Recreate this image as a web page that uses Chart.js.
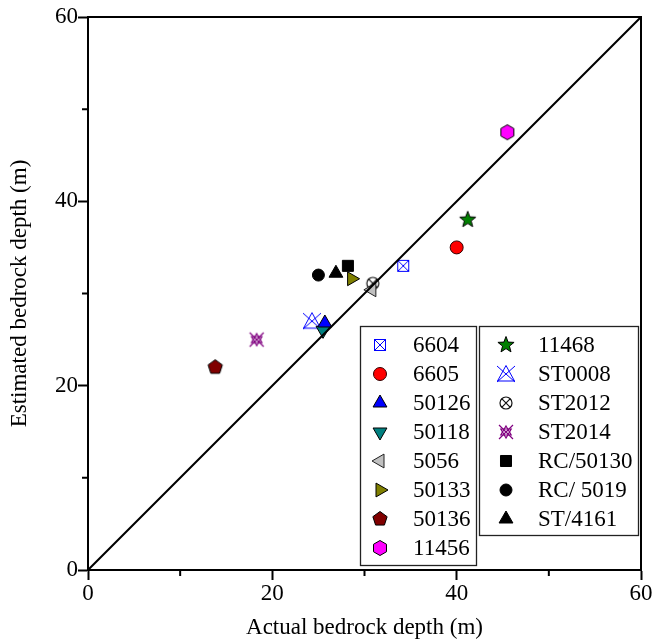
<!DOCTYPE html>
<html>
<head>
<meta charset="utf-8">
<script src="https://cdn.jsdelivr.net/npm/chart.js@4/dist/chart.umd.min.js"></script>
<style>
  html, body { margin: 0; padding: 0; background: #fff; }
</style>
</head>
<body>
<canvas id="depthChart" width="655" height="643"></canvas>
<script>
// dados
const wellNames = ['6604', '6605', '50126', '50118', '5056', '50133', '50136', '11456',
                   '11468', 'ST0008', 'ST2012', 'ST2014', 'RC/50130', 'RC/ 5019', 'ST/4161'];
const actualDepth    = [34.2, 40.0, 25.7, 25.5, 30.8, 28.6, 13.8, 45.5, 41.2, 24.3, 30.9, 18.3, 28.2, 25.0, 26.9];
const estimatedDepth = [33.0, 35.0, 26.8, 26.0, 30.4, 31.6, 22.0, 47.5, 38.0, 27.0, 31.1, 25.0, 33.0, 32.0, 32.2];
const axisRange = [0, 60];
const majorTicks = [0, 20, 40, 60];
const minorTicks = [10, 30, 50];

const serif = "'Liberation Serif', 'Times New Roman', serif";

// simbolos desenhados num canvas pequeno
function marker(size, paint) {
  const c = document.createElement('canvas');
  c.width = size; c.height = size;
  const g = c.getContext('2d');
  g.translate(size / 2, size / 2);
  paint(g);
  return c;
}
function polygon(g, n, r, start) {
  g.beginPath();
  for (let i = 0; i < n; i++) {
    const a = start + i * 2 * Math.PI / n;
    g.lineTo(r * Math.cos(a), r * Math.sin(a));
  }
  g.closePath();
}

const crossSquare = marker(16, g => {
  g.fillStyle = '#fff'; g.strokeStyle = '#0000ff'; g.lineWidth = 1;
  g.fillRect(-5.5, -5.5, 11, 11);
  g.strokeRect(-5.5, -5.5, 11, 11);
  g.beginPath();
  g.moveTo(-5.5, -5.5); g.lineTo(5.5, 5.5);
  g.moveTo(-5.5, 5.5); g.lineTo(5.5, -5.5);
  g.stroke();
});
const pentagon = marker(20, g => {
  polygon(g, 5, 7.5, -Math.PI / 2);
  g.fillStyle = '#800000'; g.fill();
  g.strokeStyle = '#000'; g.lineWidth = 1; g.stroke();
});
const hexagon = marker(20, g => {
  polygon(g, 6, 7.5, -Math.PI / 2);
  g.fillStyle = '#ff00ff'; g.fill();
  g.strokeStyle = '#000'; g.lineWidth = 1; g.stroke();
});
const star = marker(22, g => {
  g.beginPath();
  for (let i = 0; i < 10; i++) {
    const a = -Math.PI / 2 + i * Math.PI / 5;
    const r = i % 2 ? 3.6 : 8.5;
    g.lineTo(r * Math.cos(a), r * Math.sin(a));
  }
  g.closePath();
  g.fillStyle = '#008000'; g.fill();
  g.strokeStyle = '#000'; g.lineWidth = 1; g.stroke();
});
const crossTriangle = marker(24, g => {
  g.strokeStyle = '#0000ff'; g.lineWidth = 1;
  g.beginPath();
  g.moveTo(0, -8.5); g.lineTo(8.5, 7); g.lineTo(-8.5, 7); g.closePath();
  g.moveTo(-9, -8); g.lineTo(9, 8);
  g.moveTo(-9, 8); g.lineTo(9, -8);
  g.stroke();
});
const crossCircle = marker(18, g => {
  g.strokeStyle = '#111'; g.lineWidth = 1.2;
  g.beginPath();
  g.arc(0, 0, 6, 0, 2 * Math.PI);
  g.moveTo(-4.3, -4.3); g.lineTo(4.3, 4.3);
  g.moveTo(-4.3, 4.3); g.lineTo(4.3, -4.3);
  g.stroke();
});
const crossStar = marker(20, g => {
  g.strokeStyle = '#800080'; g.lineWidth = 1.2;
  polygon(g, 3, 6, -Math.PI / 2); g.stroke();
  polygon(g, 3, 6, Math.PI / 2); g.stroke();
  g.beginPath();
  g.moveTo(-7, -7); g.lineTo(7, 7);
  g.moveTo(-7, 7); g.lineTo(7, -7);
  g.stroke();
});

// estilo de cada serie, na mesma ordem dos nomes
const markerStyles = [
  { pointStyle: crossSquare },
  { pointStyle: 'circle', radius: 6.5, bg: '#ff0000', border: '#300' },
  { pointStyle: 'triangle', radius: 8, bg: '#0000ff', border: '#000' },
  { pointStyle: 'triangle', radius: 8, rotation: 180, bg: '#008080', border: '#000' },
  { pointStyle: 'triangle', radius: 8, rotation: -90, bg: '#c0c0c0', border: '#222' },
  { pointStyle: 'triangle', radius: 8, rotation: 90, bg: '#808000', border: '#000' },
  { pointStyle: pentagon },
  { pointStyle: hexagon },
  { pointStyle: star },
  { pointStyle: crossTriangle },
  { pointStyle: crossCircle },
  { pointStyle: crossStar },
  { pointStyle: 'rect', radius: 7.8, bg: '#000', border: '#000' },
  { pointStyle: 'circle', radius: 6, bg: '#000', border: '#000' },
  { pointStyle: 'triangle', radius: 8, bg: '#000', border: '#000' }
];

const datasets = wellNames.map((name, i) => {
  const s = markerStyles[i];
  return {
    type: 'scatter',
    label: name,
    data: [{ x: actualDepth[i], y: estimatedDepth[i] }],
    pointStyle: s.pointStyle,
    pointRadius: s.radius || 8,
    pointRotation: s.rotation || 0,
    backgroundColor: s.bg || '#000',
    borderColor: s.border || '#000',
    borderWidth: 1
  };
});

// linha 1:1
datasets.push({
  type: 'line',
  label: '1:1',
  data: [{ x: axisRange[0], y: axisRange[0] }, { x: axisRange[1], y: axisRange[1] }],
  borderColor: '#000',
  borderWidth: 2,
  pointRadius: 0,
  order: -1
});

// moldura, ticks menores e legenda em duas caixas
const framePlugin = {
  id: 'frame',
  afterDraw(chart) {
    const { ctx, chartArea: a, scales: { x, y } } = chart;
    ctx.save();
    ctx.strokeStyle = '#000';
    ctx.lineWidth = 2;
    ctx.beginPath();
    ctx.moveTo(a.left, a.top); ctx.lineTo(a.right, a.top); ctx.lineTo(a.right, a.bottom);
    minorTicks.forEach(v => {
      const px = x.getPixelForValue(v);
      ctx.moveTo(px, a.bottom); ctx.lineTo(px, a.bottom + 6);
      const py = y.getPixelForValue(v);
      ctx.moveTo(a.left, py); ctx.lineTo(a.left - 6, py);
    });
    ctx.stroke();

    const boxes = [
      { left: 360, top: 326, w: 116, h: 239, mx: 380, tx: 413, from: 0, to: 8 },
      { left: 479, top: 326, w: 159, h: 209, mx: 506, tx: 538, from: 8, to: 15 }
    ];
    ctx.font = '23px ' + serif;
    ctx.textBaseline = 'middle';
    boxes.forEach(b => {
      ctx.fillStyle = '#fff';
      ctx.fillRect(b.left, b.top, b.w, b.h);
      ctx.lineWidth = 1.3;
      ctx.strokeStyle = '#222';
      ctx.strokeRect(b.left + 0.5, b.top + 0.5, b.w, b.h);
      for (let i = b.from; i < b.to; i++) {
        const my = 345 + (i - b.from) * 29;
        const o = chart.getDatasetMeta(i).data[0].options;
        ctx.fillStyle = o.backgroundColor;
        ctx.strokeStyle = o.borderColor;
        ctx.lineWidth = o.borderWidth;
        Chart.helpers.drawPoint(ctx, o, b.mx, my);
        ctx.fillStyle = '#000';
        ctx.fillText(wellNames[i], b.tx, my + 1);
      }
    });
    ctx.restore();
  }
};

const axisTick = {
  display: true,
  drawOnChartArea: false,
  drawTicks: true,
  tickLength: 10,
  tickWidth: 2,
  tickColor: c => majorTicks.includes(c.tick && c.tick.value) ? '#000' : 'rgba(0,0,0,0)'
};

new Chart(document.getElementById('depthChart').getContext('2d'), {
  data: { datasets: datasets },
  plugins: [framePlugin],
  options: {
    responsive: false,
    animation: false,
    layout: { padding: { top: 17, right: 14, left: 0, bottom: 0 } },
    plugins: { legend: { display: false }, tooltip: { enabled: false } },
    scales: {
      x: {
        type: 'linear',
        min: axisRange[0], max: axisRange[1],
        grid: axisTick,
        border: { display: true, color: '#000', width: 2 },
        ticks: {
          stepSize: 10,
          color: '#000',
          padding: 0,
          font: { family: serif, size: 23 },
          callback: v => majorTicks.includes(v) ? v : ''
        },
        title: {
          display: true, text: 'Actual bedrock depth (m)', color: '#000',
          font: { family: serif, size: 23 }, padding: { bottom: 1, top: 0 }
        },
        afterFit: s => { s.height = 73; }
      },
      y: {
        type: 'linear',
        min: axisRange[0], max: axisRange[1],
        grid: axisTick,
        border: { display: true, color: '#000', width: 2 },
        ticks: {
          stepSize: 10,
          color: '#000',
          padding: 0,
          font: { family: serif, size: 23 },
          callback: v => majorTicks.includes(v) ? v : ''
        },
        title: {
          display: true, text: 'Estimated bedrock depth (m)', color: '#000',
          font: { family: serif, size: 23 }, padding: { top: 6, bottom: 0 }
        },
        afterFit: s => { s.width = 88; }
      }
    }
  }
});
</script>
</body>
</html>
